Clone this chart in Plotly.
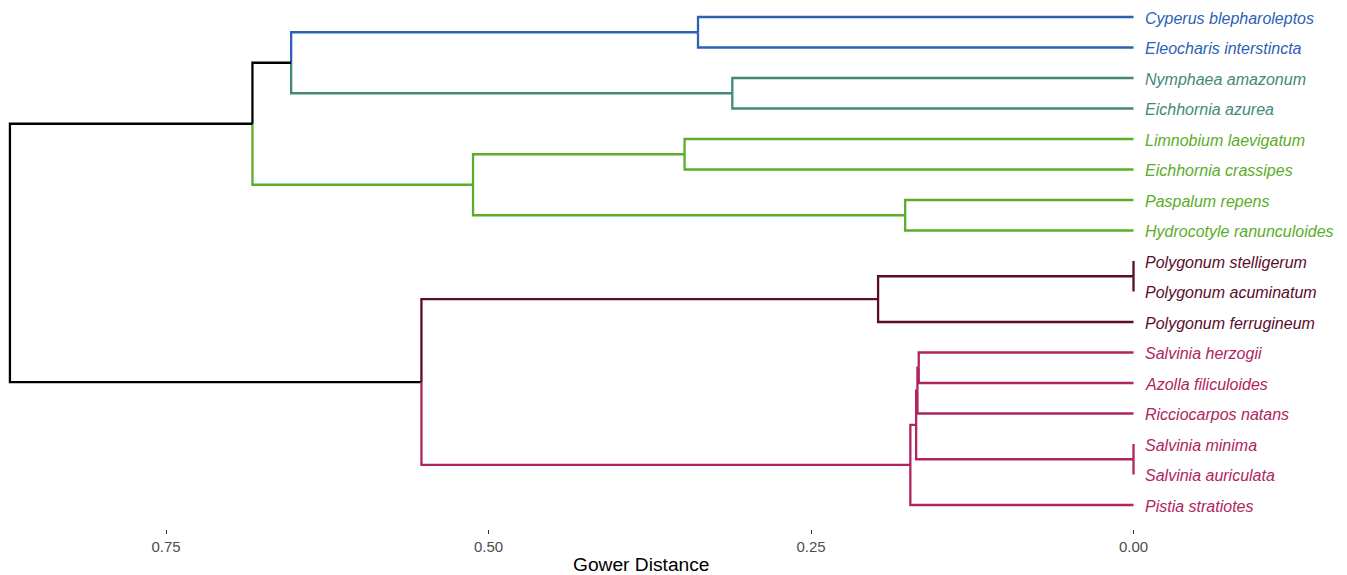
import plotly.graph_objects as go

# Species in dendrogram order (top to bottom)
species = [
    "Cyperus blepharoleptos", "Eleocharis interstincta",
    "Nymphaea amazonum", "Eichhornia azurea",
    "Limnobium laevigatum", "Eichhornia crassipes",
    "Paspalum repens", "Hydrocotyle ranunculoides",
    "Polygonum stelligerum", "Polygonum acuminatum", "Polygonum ferrugineum",
    "Salvinia herzogii", "Azolla filiculoides", "Ricciocarpos natans",
    "Salvinia minima", "Salvinia auriculata", "Pistia stratiotes",
]
# Cluster membership of each species
cluster = [1, 1, 2, 2, 3, 3, 3, 3, 4, 4, 4, 5, 5, 5, 5, 5, 5]
cluster_colors = {1: "#2C62B4", 2: "#43897A", 3: "#5BAD29", 4: "#5A0C2C", 5: "#B02460"}

# Agglomeration steps: (left child, right child, Gower distance)
# children are species names or the index of an earlier step
merge_left = ["Cyperus blepharoleptos", "Nymphaea amazonum", 0,
              "Limnobium laevigatum", "Paspalum repens", 3, 2,
              "Polygonum stelligerum", 7,
              "Salvinia herzogii", 9, "Salvinia minima", 10, 12, 8, 6]
merge_right = ["Eleocharis interstincta", "Eichhornia azurea", 1,
               "Eichhornia crassipes", "Hydrocotyle ranunculoides", 4, 5,
               "Polygonum acuminatum", "Polygonum ferrugineum",
               "Azolla filiculoides", "Ricciocarpos natans", "Salvinia auriculata", 11,
               "Pistia stratiotes", 13, 14]
merge_height = [0.3376, 0.311, 0.653, 0.348, 0.177, 0.512, 0.683,
                0.0, 0.198, 0.1665, 0.1675, 0.0, 0.1685, 0.173, 0.552, 0.871]

tick_vals = [0.75, 0.50, 0.25, 0.00]
tick_text = ["0.75", "0.50", "0.25", "0.00"]

FONT = "Liberation Sans, Arial, sans-serif"

# ---- node geometry ----
node_y, node_h, node_cl = {}, {}, {}
for i, s in enumerate(species):
    node_y[s], node_h[s], node_cl[s] = i, 0.0, {cluster[i]}
for k, (a, b, h) in enumerate(zip(merge_left, merge_right, merge_height)):
    node_y[k] = (node_y[a] + node_y[b]) / 2
    node_h[k] = h
    node_cl[k] = node_cl[a] | node_cl[b]


def seg_color(node):
    cl = node_cl[node]
    return cluster_colors[next(iter(cl))] if len(cl) == 1 else "#000000"


segs = {}
for k, (a, b, h) in enumerate(zip(merge_left, merge_right, merge_height)):
    for child in (a, b):
        col = seg_color(child)
        xs, ys = segs.setdefault(col, ([], []))
        xs += [h, h, node_h[child], None]
        ys += [node_y[k], node_y[child], node_y[child], None]

fig = go.Figure()
for col, (xs, ys) in segs.items():
    fig.add_trace(go.Scatter(x=xs, y=ys, mode="lines",
                             line=dict(color=col, width=2.3),
                             hoverinfo="skip", showlegend=False))

for i, s in enumerate(species):
    fig.add_annotation(x=-0.0075, y=i, xref="x", yref="y", text=s,
                       showarrow=False, xanchor="left", yanchor="middle",
                       yshift=-1,
                       font=dict(family=FONT, size=16,
                                 color=cluster_colors[cluster[i]],
                                 style="italic"))

# axis title, centred under the tree panel
fig.add_annotation(x=0.4766, y=0, xref="paper", yref="paper", yshift=-35,
                   text="Gower Distance", showarrow=False,
                   xanchor="center", yanchor="middle",
                   font=dict(family=FONT, size=19.2, color="#000000"))

fig.update_layout(
    width=1347, height=575,
    margin=dict(l=0, r=0, t=0, b=46),
    paper_bgcolor="white", plot_bgcolor="white",
    xaxis=dict(range=[0.8787, -0.1655], tickvals=tick_vals, ticktext=tick_text,
               ticks="outside", ticklen=4, tickwidth=1.2, tickcolor="#333333",
               tickfont=dict(family=FONT, size=15, color="#4D4D4D"),
               showgrid=False, zeroline=False, showline=False),
    yaxis=dict(range=[16.787, -0.5574], visible=False, showgrid=False,
               zeroline=False),
)

fig.write_html("out.html")
